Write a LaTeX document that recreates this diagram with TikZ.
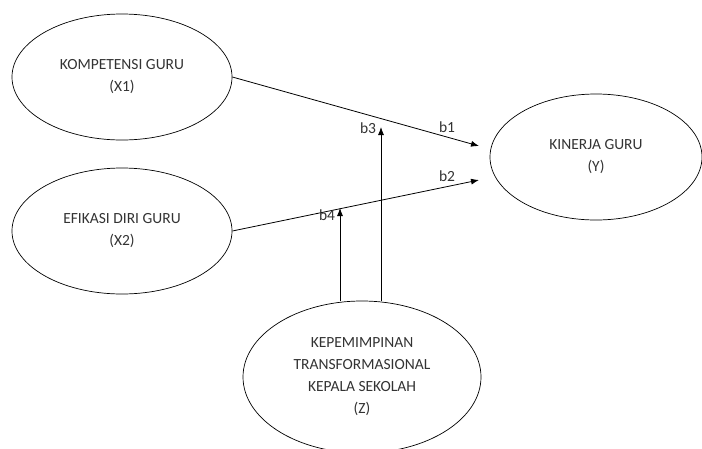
\documentclass[tikz,border=0pt]{standalone}
\usepackage{fontspec}
\setmainfont{Carlito}
\usetikzlibrary{shapes.geometric,arrows.meta}
\begin{document}
\begin{tikzpicture}[x=1pt,y=-1pt,
    var/.style={draw, ellipse, line width=0.7pt, align=center, inner sep=1pt,
      font=\fontsize{15.5}{22}\selectfont, text=black!80},
    path/.style={line width=0.8pt, -{Latex[length=8pt,width=6pt]}},
    lbl/.style={font=\fontsize{15.5}{18}\selectfont, text=black!80, inner sep=1pt}]
    \useasboundingbox (0,0) rectangle (702,448);
    \node[var, minimum width=220, minimum height=126] (x1) at (122,77) {KOMPETENSI GURU\\(X1)};
    \node[var, minimum width=220, minimum height=126] (x2) at (122,231) {EFIKASI DIRI GURU\\(X2)};
    \node[var, minimum width=212, minimum height=126] (y) at (596,157) {KINERJA GURU\\(Y)};
    \node[var, minimum width=238, minimum height=152] (z) at (362,377) {KEPEMIMPINAN\\TRANSFORMASIONAL\\KEPALA SEKOLAH\\(Z)};
    % arrow tips
    \coordinate (t1) at (479,146);
    \coordinate (t2) at (479,180);
    \coordinate (t3) at (381,127);
    \coordinate (t4) at (340,208);
    \draw[path] (x1.east) -- (t1);
    \draw[path] (x2.east) -- (t2);
    \draw[path] (t3 |- z.north) -- (t3);
    \draw[path] (t4 |- z.north) -- (t4);
    \node[lbl] (b1) at (447,127) {b1};
    \node[lbl] (b2) at (447,176) {b2};
    \node[lbl] (b3) at (368,128) {b3};
    \node[lbl] (b4) at (327,215) {b4};
\end{tikzpicture}
\end{document}
